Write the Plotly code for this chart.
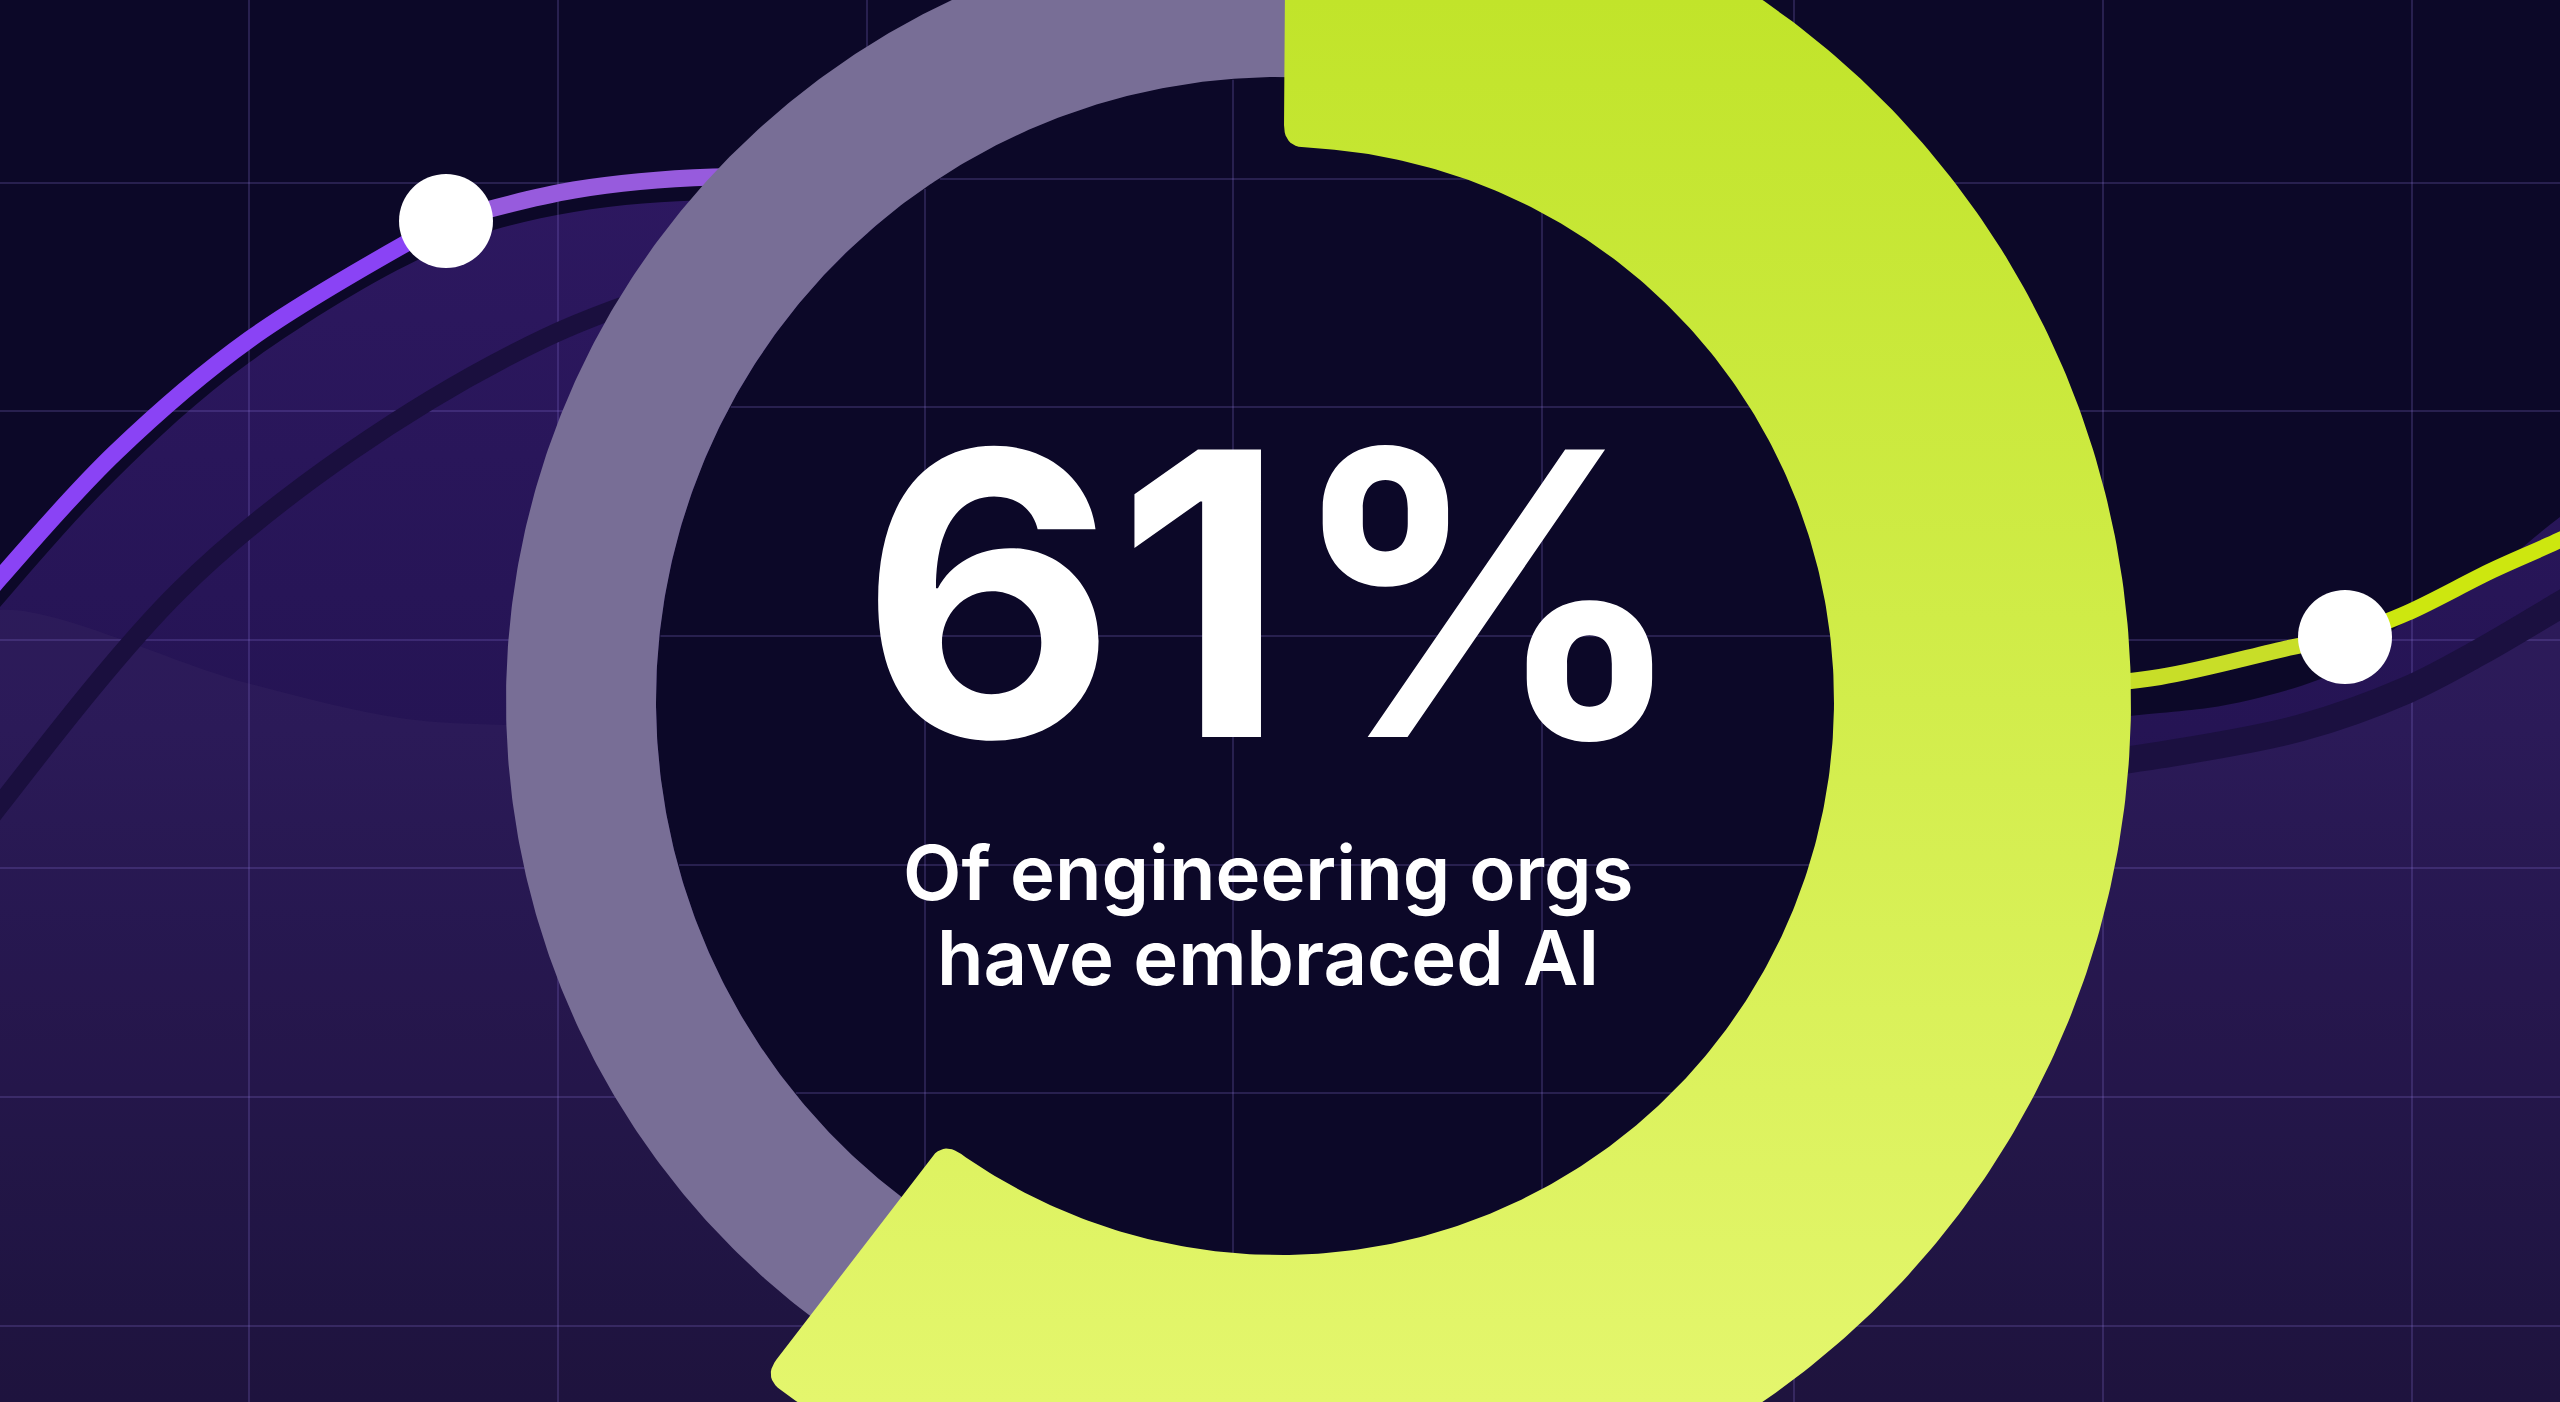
import numpy as np
import plotly.graph_objects as go

W, H = 2560, 1402

# ---------------- data ----------------
SHARE_LABELS = ["Embraced AI", "Not yet"]
SHARE_VALUES = [61, 39]
HEADLINE = "61%"
SUBTITLE_LINES = ["Of engineering orgs", "have embraced AI"]

# decorative trend curves (picture pixels, y measured downward)
PURPLE_A_X = [-60, 0, 115, 250, 446]
PURPLE_A_Y = [650, 578, 453, 339, 221]
PURPLE_B_X = [446, 574, 713, 850]
PURPLE_B_Y = [221, 190, 177, 180]

LIME_A_X = [2050, 2160, 2293, 2345]
LIME_A_Y = [688, 677, 647, 637]
LIME_B_X = [2345, 2407, 2493, 2560, 2620]
LIME_B_Y = [637, 613, 570, 540, 510]

DARK_LEFT_X = [-40, 0, 180, 350, 547, 700]
DARK_LEFT_Y = [860, 805, 590, 452, 337, 280]
DARK_RIGHT_X = [2050, 2160, 2300, 2407, 2480, 2560, 2620]
DARK_RIGHT_Y = [770, 755, 728, 690, 652, 605, 570]

AREA_TOP_X = [-60, 0, 115, 250, 446, 574, 713, 850, 1280, 1900, 2160, 2250, 2345, 2400, 2480, 2560, 2640]
AREA_TOP_Y = [680, 607, 480, 362, 247, 212, 200, 205, 500, 720, 713, 700, 668, 625, 580, 517, 460]

BAND_TOP_X = [-60, 0, 247, 400, 505, 700, 1280, 1900, 2160, 2300, 2407, 2480, 2560, 2640]
BAND_TOP_Y = [640, 610, 683, 718, 725, 730, 760, 765, 755, 728, 690, 652, 605, 545]

DOT_X = [446, 2345]
DOT_Y = [221, 637]

GRID_X = [249, 558, 867, 1176, 1485, 1794, 2103, 2412]
GRID_Y = [183, 411, 640, 868, 1097, 1326]
HOLE_GRID_X = [617, 925, 1233, 1542, 1850]
HOLE_GRID_Y = [179, 407, 636, 865, 1093, 1322]

# ---------------- geometry / style ----------------
CX, CY = 1280, 701
R_HOLE = 624
R_GREY_OUT = 774
R_LIME_IN, R_LIME_OUT = 554, 851
LIME_START_DEG = 0.4
END_INSET_DEG = 2.6
CORNER = 22

BG = "#0c0828"
GRID_COLOR = "rgba(140,120,220,0.22)"


def pt(r, a_deg):
    a = np.radians(a_deg)
    return CX + r * np.sin(a), CY - r * np.cos(a)


def arc(r, a_from, a_to, n=360):
    return [pt(r, a) for a in np.linspace(a_from, a_to, n)]


def fillet(p0, c, p1, n=12):
    t = np.linspace(0, 1, n)
    p0, c, p1 = map(np.array, (p0, c, p1))
    return [tuple((1 - s) ** 2 * p0 + 2 * (1 - s) * s * c + s ** 2 * p1) for s in t]


def rounded_sector(r0, r1, a0, a1, rad):
    do = np.degrees(rad / r1)
    di = np.degrees(rad / r0)
    pts = []
    pts += arc(r1, a0 + do, a1 - do)
    pts += fillet(pt(r1, a1 - do), pt(r1, a1), pt(r1 - rad, a1))
    pts += fillet(pt(r0 + rad, a1), pt(r0, a1), pt(r0, a1 - di))
    pts += arc(r0, a1 - di, a0 + di)
    pts += fillet(pt(r0, a0 + di), pt(r0, a0), pt(r0 + rad, a0))
    pts += fillet(pt(r1 - rad, a0), pt(r1, a0), pt(r1, a0 + do))
    pts.append(pts[0])
    xs, ys = zip(*pts)
    return list(xs), list(ys)


def plain_sector(r0, r1, a0, a1):
    pts = arc(r1, a0, a1) + arc(r0, a1, a0)
    pts.append(pts[0])
    xs, ys = zip(*pts)
    return list(xs), list(ys)


total = sum(SHARE_VALUES)
lime_end = LIME_START_DEG + 360 * SHARE_VALUES[0] / total - END_INSET_DEG
grey_start = lime_end - 4
grey_end = 360 + LIME_START_DEG + 2

fig = go.Figure()
common = dict(hoverinfo="skip", showlegend=False)

# purple area under the curves
fig.add_trace(go.Scatter(x=[-80, W + 80], y=[H + 60, H + 60], mode="lines",
                         line=dict(width=0), **common))
fig.add_trace(go.Scatter(x=AREA_TOP_X, y=AREA_TOP_Y, mode="lines", line=dict(width=0, shape="spline"),
                         fill="tonexty",
                         fillgradient=dict(type="vertical", start=180, stop=H,
                                           colorscale=[[0, "#2d1860"], [0.45, "#251454"], [1, "#160c36"]]),
                         **common))
# lighter band
fig.add_trace(go.Scatter(x=[-80, W + 80], y=[H + 60, H + 60], mode="lines",
                         line=dict(width=0), **common))
fig.add_trace(go.Scatter(x=BAND_TOP_X, y=BAND_TOP_Y, mode="lines", line=dict(width=0, shape="spline"),
                         fill="tonexty", fillcolor="rgba(85,72,115,0.13)", **common))

# outer grid
gx, gy = [], []
for x in GRID_X:
    gx += [x, x, None]
    gy += [0, H, None]
for y in GRID_Y:
    gx += [0, W, None]
    gy += [y, y, None]
fig.add_trace(go.Scatter(x=gx, y=gy, mode="lines", line=dict(color=GRID_COLOR, width=2), **common))

# dark trailing curves
fig.add_trace(go.Scatter(x=DARK_LEFT_X, y=DARK_LEFT_Y, mode="lines",
                         line=dict(color="#1a0f3e", width=19, shape="spline"), **common))
fig.add_trace(go.Scatter(x=DARK_RIGHT_X, y=DARK_RIGHT_Y, mode="lines",
                         line=dict(color="#1b1040", width=27, shape="spline"), **common))

# bright curves
fig.add_trace(go.Scatter(x=PURPLE_A_X, y=PURPLE_A_Y, mode="lines",
                         line=dict(color="#8a43f5", width=17, shape="spline"), **common))
fig.add_trace(go.Scatter(x=PURPLE_B_X, y=PURPLE_B_Y, mode="lines",
                         line=dict(color="#975bdd", width=17, shape="spline"), **common))
fig.add_trace(go.Scatter(x=LIME_A_X, y=LIME_A_Y, mode="lines",
                         line=dict(color="#c8de28", width=16, shape="spline"), **common))
fig.add_trace(go.Scatter(x=LIME_B_X, y=LIME_B_Y, mode="lines",
                         line=dict(color="#cde70f", width=16, shape="spline"), **common))
fig.add_trace(go.Scatter(x=DOT_X, y=DOT_Y, mode="markers",
                         marker=dict(color="white", size=94, line=dict(width=0)), **common))

# hole of the donut
hx, hy = zip(*(arc(R_HOLE, 0, 360, 500)))
fig.add_trace(go.Scatter(x=list(hx), y=list(hy), mode="lines", line=dict(width=0),
                         fill="toself", fillcolor=BG, **common))
hgx, hgy = [], []
rr = R_HOLE - 1
for x in HOLE_GRID_X:
    d = x - CX
    if abs(d) < rr:
        h = np.sqrt(rr ** 2 - d ** 2)
        hgx += [x, x, None]
        hgy += [CY - h, CY + h, None]
for y in HOLE_GRID_Y:
    d = y - CY
    if abs(d) < rr:
        h = np.sqrt(rr ** 2 - d ** 2)
        hgx += [CX - h, CX + h, None]
        hgy += [y, y, None]
fig.add_trace(go.Scatter(x=hgx, y=hgy, mode="lines", line=dict(color=GRID_COLOR, width=2), **common))

# grey remainder slice
sx, sy = plain_sector(R_HOLE, R_GREY_OUT, grey_start, grey_end)
fig.add_trace(go.Scatter(x=sx, y=sy, mode="lines", line=dict(width=0), fill="toself",
                         fillcolor="#786e96", name=SHARE_LABELS[1], **common))
# lime share slice
lx, ly = rounded_sector(R_LIME_IN, R_LIME_OUT, LIME_START_DEG, lime_end, CORNER)
fig.add_trace(go.Scatter(x=lx, y=ly, mode="lines", line=dict(width=0), fill="toself",
                         fillgradient=dict(type="vertical", start=0, stop=H,
                                           colorscale=[[0, "#c1e42a"], [0.5, "#d2ed4b"], [1, "#e4f66d"]]),
                         name=SHARE_LABELS[0], **common))

annotations = [
    dict(x=1274, y=593, text=HEADLINE, showarrow=False, xanchor="center", yanchor="middle",
         height=300, valign="middle",
         font=dict(family="Inter", size=395, color="white", weight=700)),
    dict(x=1268, y=872, text=SUBTITLE_LINES[0], showarrow=False, xanchor="center", yanchor="middle",
         font=dict(family="Inter", size=76, color="white", weight=600)),
    dict(x=1268, y=957, text=SUBTITLE_LINES[1], showarrow=False, xanchor="center", yanchor="middle",
         height=76, valign="middle",
         font=dict(family="Inter", size=76, color="white", weight=600)),
]

fig.update_layout(
    width=W, height=H,
    margin=dict(l=0, r=0, t=0, b=0),
    paper_bgcolor=BG, plot_bgcolor=BG,
    xaxis=dict(range=[0, W], visible=False, fixedrange=True),
    yaxis=dict(range=[H, 0], visible=False, fixedrange=True),
    annotations=annotations,
    showlegend=False,
)

fig.write_html("out.html", config={"displayModeBar": False})
